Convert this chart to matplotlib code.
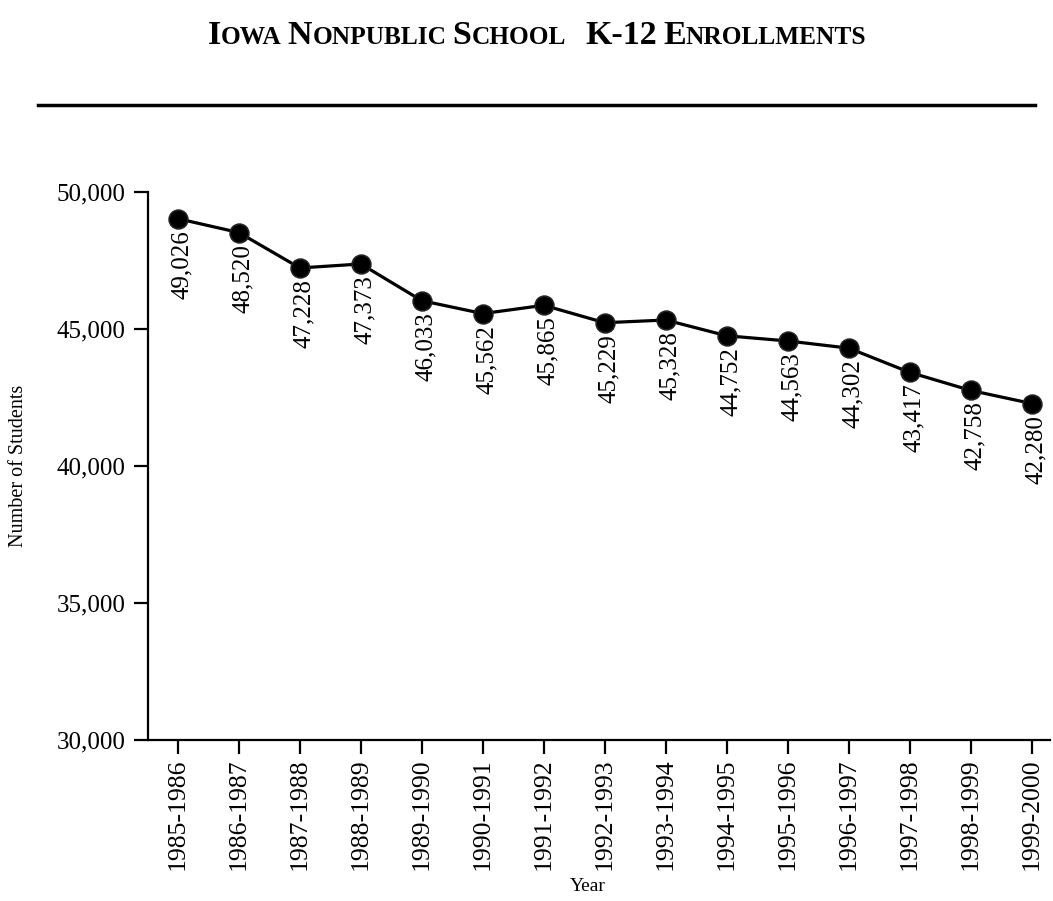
import matplotlib
matplotlib.use("Agg")
import matplotlib.pyplot as plt
from matplotlib.ticker import FuncFormatter

# --- Data ---
years = ["1985-1986", "1986-1987", "1987-1988", "1988-1989", "1989-1990",
         "1990-1991", "1991-1992", "1992-1993", "1993-1994", "1994-1995",
         "1995-1996", "1996-1997", "1997-1998", "1998-1999", "1999-2000"]
enrollment = [49026, 48520, 47228, 47373, 46033, 45562, 45865, 45229,
              45328, 44752, 44563, 44302, 43417, 42758, 42280]
y_ticks = [30000, 35000, 40000, 45000, 50000]

# title pieces for a small-caps look: (text, is_big)
title_runs = [("I", True), ("OWA", False), (" ", False), ("N", True), ("ONPUBLIC", False),
              (" ", False), ("S", True), ("CHOOL", False), ("   ", False),
              ("K-12", True), (" ", False), ("E", True), ("NROLLMENTS", False)]

SERIF = "Liberation Serif"
plt.rcParams["font.family"] = SERIF

fig = plt.figure(figsize=(10.53, 9.01), dpi=100)
ax = fig.add_axes([148 / 1053, 1 - 740 / 901, (1050 - 148) / 1053, (740 - 192) / 901])

x = list(range(len(years)))
ax.plot(x, enrollment, color="black", lw=2.3, marker="o", ms=13.5,
        mfc="black", mec="#222222", mew=1.2, zorder=3)

for xi, v in zip(x, enrollment):
    ax.annotate(f"{v:,}", (xi, v), xytext=(3, -8), textcoords="offset points",
                rotation=90, ha="center", va="top", fontsize=18)

ax.set_xlim(-0.49, 14.3)
ax.set_ylim(30000, 50000)
ax.set_xticks(x)
ax.set_xticklabels(years, rotation=90, fontsize=18.5)
ax.set_yticks(y_ticks)
ax.yaxis.set_major_formatter(FuncFormatter(lambda v, p: f"{int(v):,}"))
ax.tick_params(axis="y", labelsize=18, pad=6)
ax.tick_params(axis="x", pad=3)
ax.tick_params(direction="out", length=10, width=1.6)

for s in ["top", "right"]:
    ax.spines[s].set_visible(False)
for s in ["left", "bottom"]:
    ax.spines[s].set_linewidth(1.6)

ax.set_xlabel("Year", fontsize=14)
ax.set_ylabel("Number of Students", fontsize=14.5)
ax.xaxis.set_label_coords(0.488, -0.252)
ax.yaxis.set_label_coords(-0.133, 0.5)

# --- Title in small caps, built from pieces ---
big, small = 24.5, 18.3
texts = []
for t, is_big in title_runs:
    texts.append(fig.text(0, 1 - 44 / 901, t, fontsize=big if is_big else small,
                          fontweight="bold", va="baseline", ha="left"))
fig.canvas.draw()
r = fig.canvas.get_renderer()
widths = [tx.get_window_extent(r).width for tx in texts]
total = sum(widths)
xpos = 537 - total / 2
for tx, w in zip(texts, widths):
    tx.set_x(xpos / 1053)
    xpos += w

# horizontal rule under title
fig.add_artist(plt.Line2D([38 / 1053, 1035 / 1053], [1 - 105 / 901] * 2,
                          color="black", lw=2.5))

fig.savefig("out.png", dpi=100)
